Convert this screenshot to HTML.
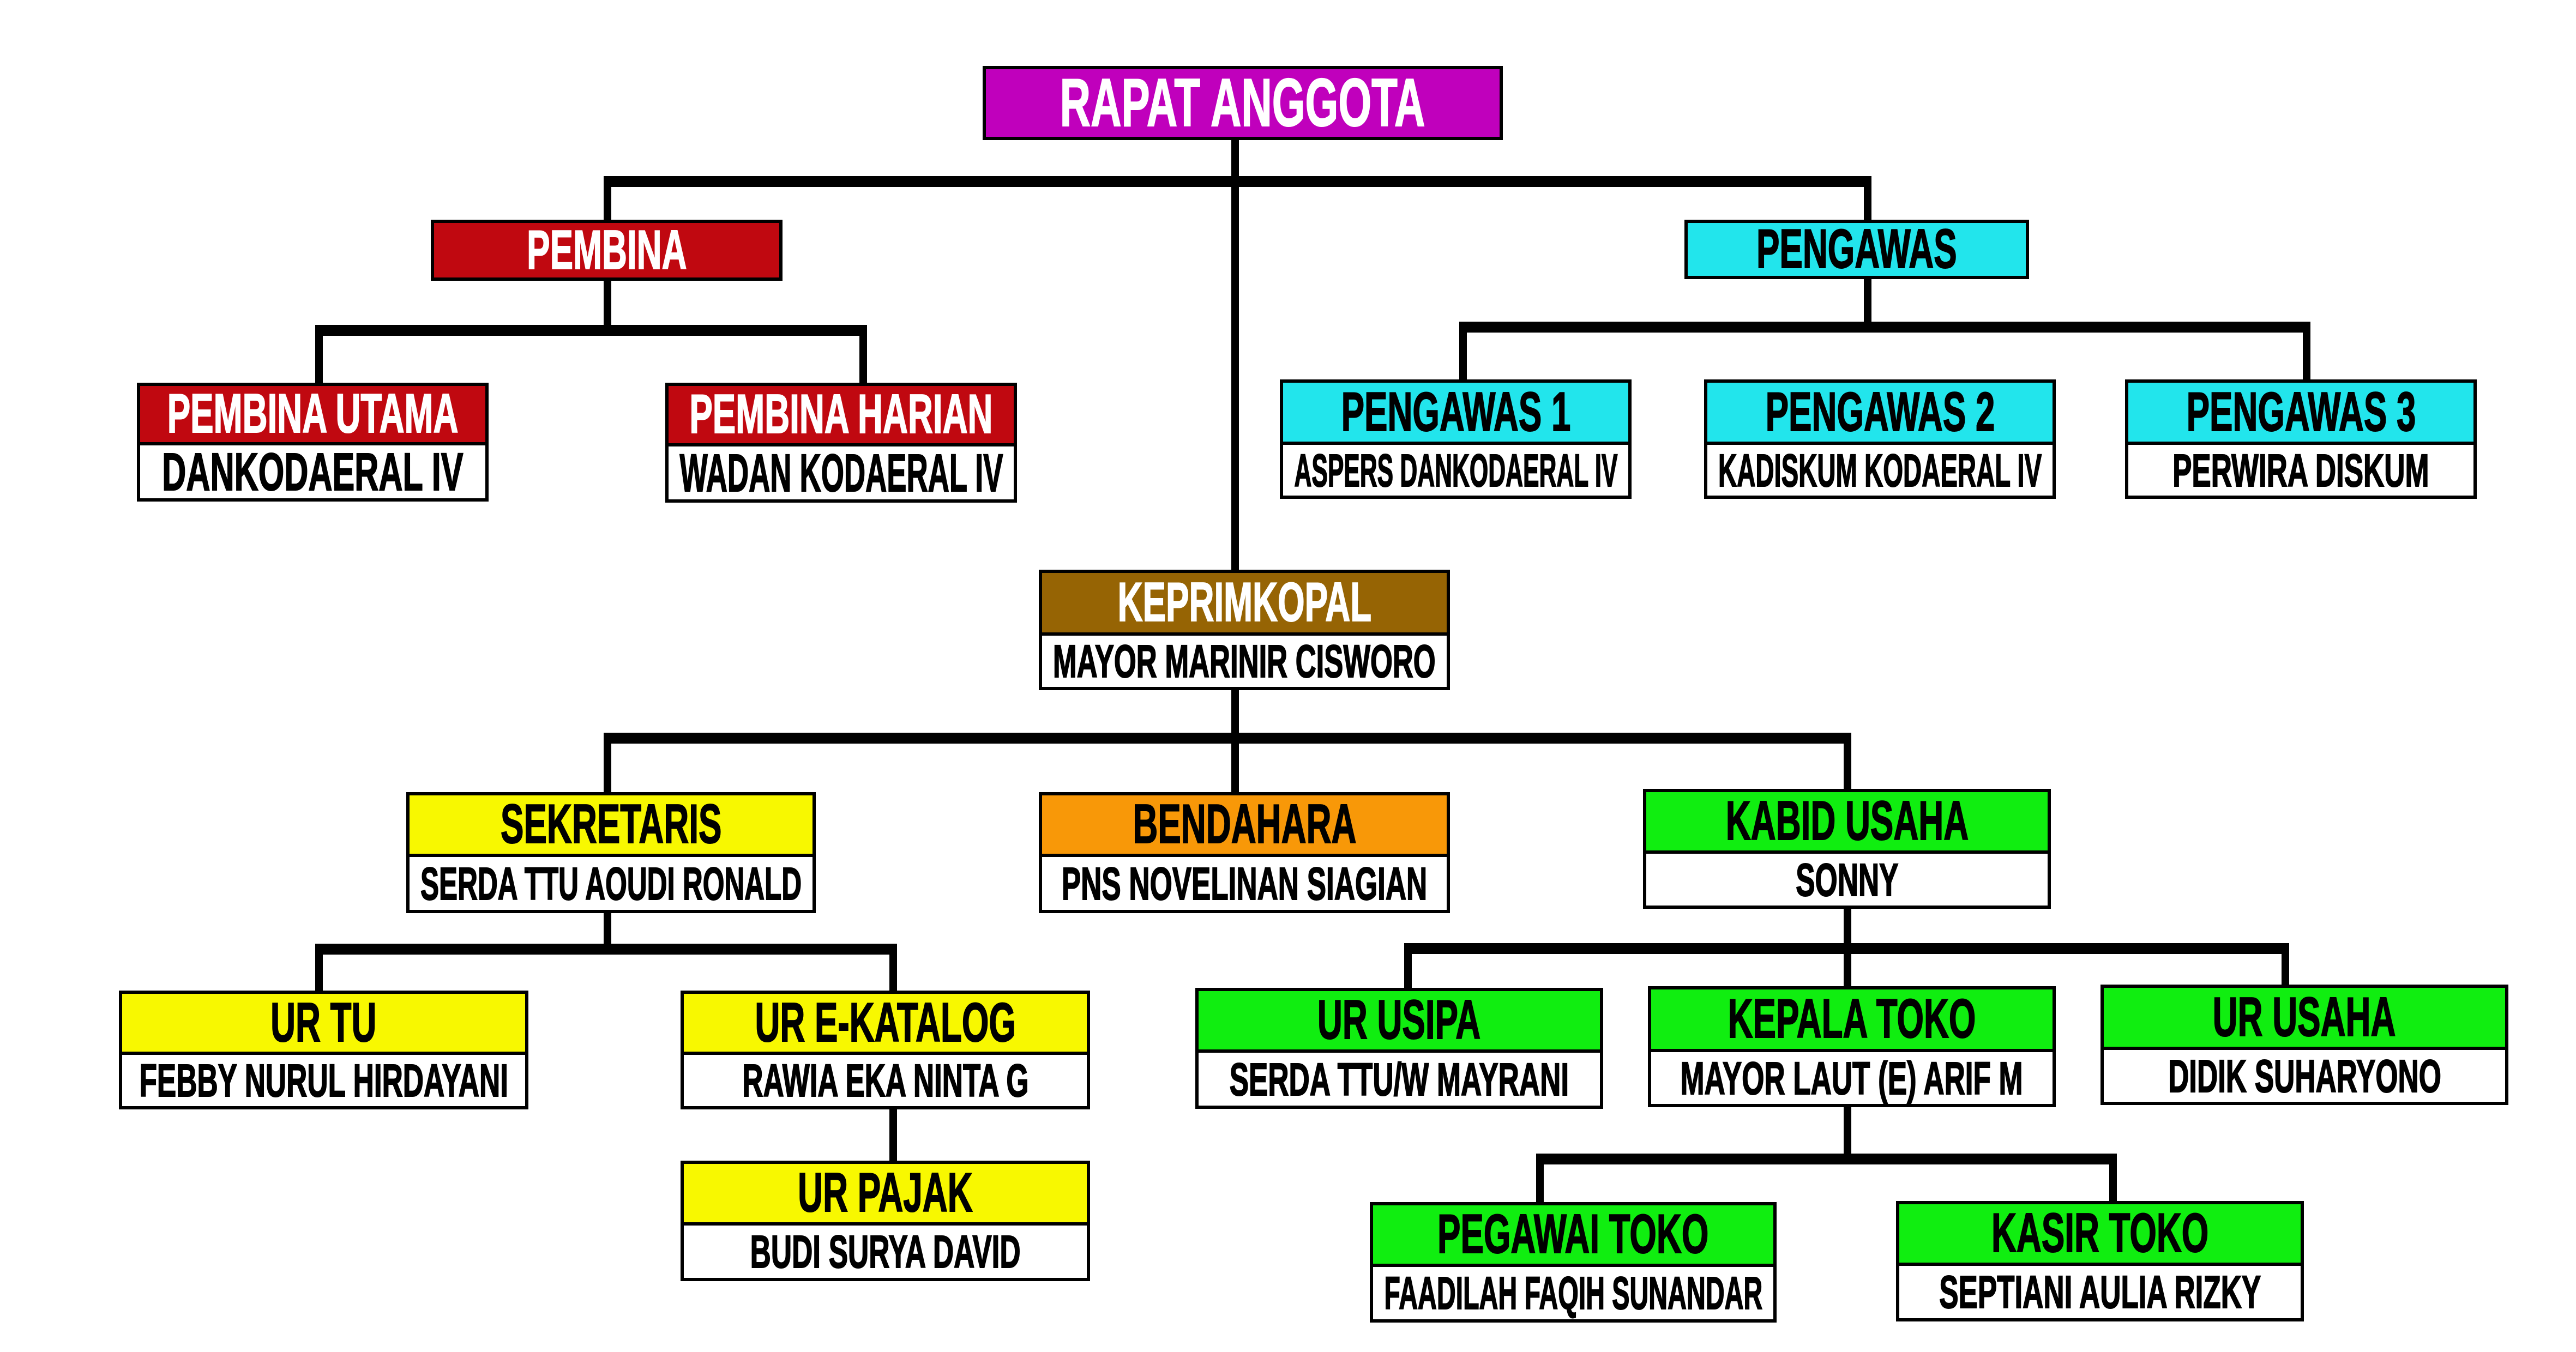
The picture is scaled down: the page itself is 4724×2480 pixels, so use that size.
<!DOCTYPE html>
<html><head><meta charset="utf-8"><style>
body{margin:0;width:4724px;height:2480px;background:#fff;position:relative;overflow:hidden}
.l{position:absolute;background:#000}
.b{position:absolute;border:6px solid #000;box-sizing:border-box;background:#fff;display:flex;flex-direction:column;overflow:hidden}
.h{border-bottom:6px solid #000;display:flex;align-items:center;justify-content:center;box-sizing:border-box;overflow:visible}
.n{flex:1;display:flex;align-items:center;justify-content:center;background:#fff}
.t{font-family:"Liberation Sans Narrow","Liberation Sans",sans-serif;font-weight:bold;white-space:nowrap;display:inline-block;transform-origin:center center;line-height:1;-webkit-text-stroke:2px currentColor}
.h .t{font-size:101px}
.n .t{font-size:97px;color:#000}
.w{color:#fff}.k{color:#000}
</style></head><body>
<div class="l" style="left:2258px;top:257px;width:14px;height:788px"></div>
<div class="l" style="left:1107px;top:323px;width:2325px;height:20px"></div>
<div class="l" style="left:1107px;top:323px;width:14px;height:80px"></div>
<div class="l" style="left:3418px;top:323px;width:14px;height:80px"></div>
<div class="l" style="left:1107px;top:515px;width:14px;height:95px"></div>
<div class="l" style="left:578px;top:596px;width:1012px;height:20px"></div>
<div class="l" style="left:578px;top:596px;width:14px;height:106px"></div>
<div class="l" style="left:1576px;top:596px;width:14px;height:106px"></div>
<div class="l" style="left:3418px;top:512px;width:14px;height:90px"></div>
<div class="l" style="left:2676px;top:590px;width:1561px;height:20px"></div>
<div class="l" style="left:2676px;top:590px;width:14px;height:106px"></div>
<div class="l" style="left:4223px;top:590px;width:14px;height:106px"></div>
<div class="l" style="left:2258px;top:1266px;width:14px;height:100px"></div>
<div class="l" style="left:1107px;top:1344px;width:2288px;height:20px"></div>
<div class="l" style="left:1107px;top:1344px;width:14px;height:109px"></div>
<div class="l" style="left:2258px;top:1344px;width:14px;height:109px"></div>
<div class="l" style="left:3381px;top:1344px;width:14px;height:103px"></div>
<div class="l" style="left:1107px;top:1675px;width:14px;height:70px"></div>
<div class="l" style="left:578px;top:1731px;width:1067px;height:20px"></div>
<div class="l" style="left:578px;top:1731px;width:14px;height:86px"></div>
<div class="l" style="left:1631px;top:1731px;width:14px;height:86px"></div>
<div class="l" style="left:1631px;top:2035px;width:14px;height:94px"></div>
<div class="l" style="left:3381px;top:1667px;width:14px;height:142px"></div>
<div class="l" style="left:2575px;top:1730px;width:1623px;height:20px"></div>
<div class="l" style="left:2575px;top:1730px;width:14px;height:82px"></div>
<div class="l" style="left:4184px;top:1730px;width:14px;height:76px"></div>
<div class="l" style="left:3381px;top:2031px;width:14px;height:95px"></div>
<div class="l" style="left:2817px;top:2116px;width:1065px;height:20px"></div>
<div class="l" style="left:2817px;top:2116px;width:14px;height:89px"></div>
<div class="l" style="left:3868px;top:2116px;width:14px;height:89px"></div>

<div class="b" style="left:1802px;top:121px;width:954px;height:136px;background:#c000bc;align-items:center;justify-content:center"><span class="t w" style="font-size:124px">RAPAT ANGGOTA</span></div>
<div class="b" style="left:790px;top:403px;width:645px;height:112px;background:#c00810;align-items:center;justify-content:center"><span class="t w" style="font-size:101px">PEMBINA</span></div>
<div class="b" style="left:3089px;top:403px;width:632px;height:109px;background:#22e5ec;align-items:center;justify-content:center"><span class="t k" style="font-size:101px">PENGAWAS</span></div>

<div class="b" style="left:251px;top:702px;width:645px;height:218px"><div class="h" style="height:112px;background:#c00810"><span class="t w">PEMBINA UTAMA</span></div><div class="n"><span class="t">DANKODAERAL IV</span></div></div>
<div class="b" style="left:1220px;top:702px;width:645px;height:220px"><div class="h" style="height:112px;background:#c00810"><span class="t w">PEMBINA HARIAN</span></div><div class="n"><span class="t">WADAN KODAERAL IV</span></div></div>

<div class="b" style="left:2347px;top:696px;width:645px;height:219px"><div class="h" style="height:114px;background:#22e5ec"><span class="t k">PENGAWAS 1</span></div><div class="n"><span class="t" style="font-size:84px">ASPERS DANKODAERAL IV</span></div></div>
<div class="b" style="left:3125px;top:696px;width:645px;height:219px"><div class="h" style="height:114px;background:#22e5ec"><span class="t k">PENGAWAS 2</span></div><div class="n"><span class="t" style="font-size:84px">KADISKUM KODAERAL IV</span></div></div>
<div class="b" style="left:3897px;top:696px;width:645px;height:219px"><div class="h" style="height:114px;background:#22e5ec"><span class="t k">PENGAWAS 3</span></div><div class="n"><span class="t" style="font-size:84px">PERWIRA DISKUM</span></div></div>

<div class="b" style="left:1905px;top:1045px;width:754px;height:221px"><div class="h" style="height:115px;background:#966404"><span class="t w">KEPRIMKOPAL</span></div><div class="n"><span class="t" style="font-size:84px">MAYOR MARINIR CISWORO</span></div></div>

<div class="b" style="left:745px;top:1453px;width:751px;height:222px"><div class="h" style="height:113px;background:#f8f800"><span class="t k">SEKRETARIS</span></div><div class="n"><span class="t" style="font-size:84px">SERDA TTU AOUDI RONALD</span></div></div>
<div class="b" style="left:1905px;top:1453px;width:754px;height:222px"><div class="h" style="height:113px;background:#f89808"><span class="t k">BENDAHARA</span></div><div class="n"><span class="t" style="font-size:84px">PNS NOVELINAN SIAGIAN</span></div></div>
<div class="b" style="left:3013px;top:1447px;width:748px;height:220px"><div class="h" style="height:113px;background:#10ee10"><span class="t k">KABID USAHA</span></div><div class="n"><span class="t" style="font-size:84px">SONNY</span></div></div>

<div class="b" style="left:218px;top:1817px;width:751px;height:218px"><div class="h" style="height:112px;background:#f8f800"><span class="t k">UR TU</span></div><div class="n"><span class="t" style="font-size:84px">FEBBY NURUL HIRDAYANI</span></div></div>
<div class="b" style="left:1248px;top:1817px;width:751px;height:218px"><div class="h" style="height:112px;background:#f8f800"><span class="t k">UR E-KATALOG</span></div><div class="n"><span class="t" style="font-size:84px">RAWIA EKA NINTA G</span></div></div>
<div class="b" style="left:1248px;top:2129px;width:751px;height:221px"><div class="h" style="height:113px;background:#f8f800"><span class="t k">UR PAJAK</span></div><div class="n"><span class="t" style="font-size:84px">BUDI SURYA DAVID</span></div></div>

<div class="b" style="left:2192px;top:1812px;width:748px;height:222px"><div class="h" style="height:113px;background:#10ee10"><span class="t k">UR USIPA</span></div><div class="n"><span class="t" style="font-size:84px">SERDA TTU/W MAYRANI</span></div></div>
<div class="b" style="left:3022px;top:1809px;width:748px;height:222px"><div class="h" style="height:115px;background:#10ee10"><span class="t k">KEPALA TOKO</span></div><div class="n"><span class="t" style="font-size:84px">MAYOR LAUT (E) ARIF M</span></div></div>
<div class="b" style="left:3852px;top:1806px;width:748px;height:221px"><div class="h" style="height:114px;background:#10ee10"><span class="t k">UR USAHA</span></div><div class="n"><span class="t" style="font-size:84px">DIDIK SUHARYONO</span></div></div>

<div class="b" style="left:2512px;top:2205px;width:746px;height:221px"><div class="h" style="height:113px;background:#10ee10"><span class="t k">PEGAWAI TOKO</span></div><div class="n"><span class="t" style="font-size:84px">FAADILAH FAQIH SUNANDAR</span></div></div>
<div class="b" style="left:3477px;top:2203px;width:748px;height:221px"><div class="h" style="height:113px;background:#10ee10"><span class="t k">KASIR TOKO</span></div><div class="n"><span class="t" style="font-size:84px">SEPTIANI AULIA RIZKY</span></div></div>
<script>
document.querySelectorAll('.t').forEach(function(e){
  var box=e.closest('.b');
  var max=box.clientWidth-40;
  var w=e.offsetWidth;
  var s=0.63;
  if(w*s>max) s=max/w;
  e.style.transform='scaleX('+s+')';
});
</script>
</body></html>
